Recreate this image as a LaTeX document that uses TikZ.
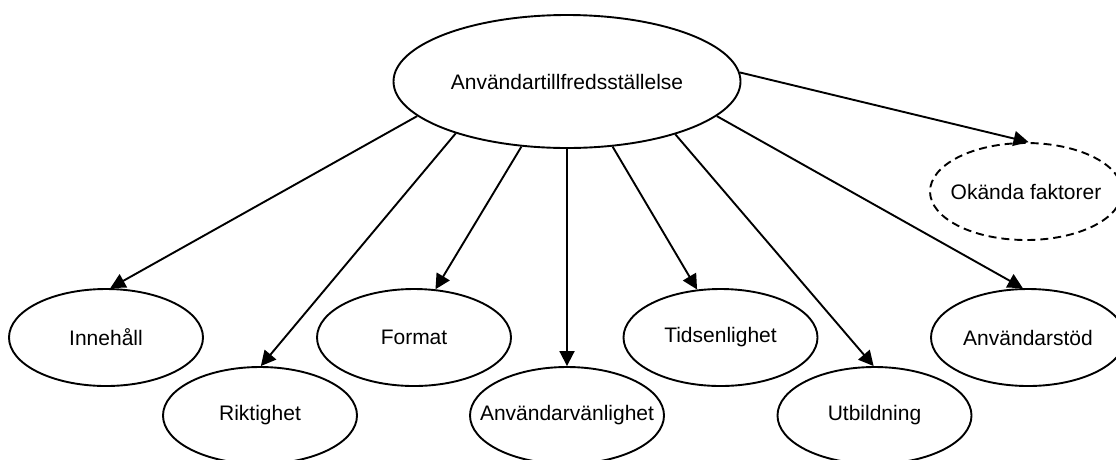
\documentclass[tikz,border=0pt]{standalone}
\usepackage{fontspec}
\setmainfont{Liberation Sans}
\usetikzlibrary{shapes.geometric,arrows.meta}
\begin{document}
\begin{tikzpicture}[x=1pt,y=-1pt,
  oval/.style={ellipse,draw,line width=1.9pt,inner sep=0pt,minimum width=194pt,minimum height=97pt},
  lbl/.style={font=\fontsize{21}{25}\selectfont},
  conn/.style={line width=1.9pt,-{Triangle[length=15pt,width=15pt]}}]
\useasboundingbox (0,0) rectangle (1116,459);
\node[oval,minimum width=347pt,minimum height=133pt,label={[lbl]center:Användartillfredsställelse}] (top) at (567,81.5) {};
\node[oval,dashed,dash pattern=on 8pt off 5pt,minimum width=192pt,label={[lbl]center:Okända faktorer}] (okand) at (1026,191.5) {};
\node[oval,label={[lbl]center:Innehåll}] (inne) at (106,337.5) {};
\node[oval,label={[lbl]center:Riktighet}] (rikt) at (260,415.5) {};
\node[oval,label={[lbl]center:Format}] (form) at (414,337.5) {};
\node[oval,label={[lbl]center:Användarvänlighet}] (anv) at (567,415.5) {};
\node[oval,label={[lbl]center:Tidsenlighet}] (tids) at (720.5,337.5) {};
\node[oval,label={[lbl]center:Utbildning}] (utb) at (874.5,415.5) {};
\node[oval,label={[lbl]center:Användarstöd}] (stod) at (1028,337.5) {};
\draw[conn] (top.193.7) -- (inne.85);
\draw[conn] (top.205.3) -- (rikt.89);
\draw[conn] (top.235) -- (form.66);
\draw[conn] (top.270) -- (anv.90);
\draw[conn] (top.305) -- (tids.116);
\draw[conn] (top.334.7) -- (utb.91);
\draw[conn] (top.347.1) -- (stod.96);
\draw[conn] (top.3.1) -- (okand.87);
\end{tikzpicture}
\end{document}
